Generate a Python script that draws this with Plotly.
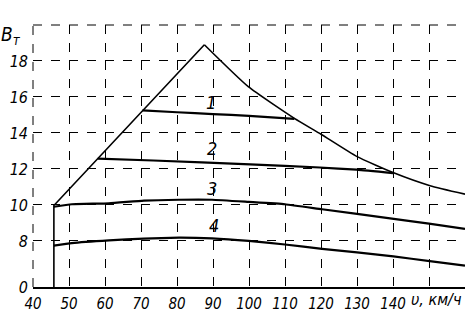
import plotly.graph_objects as go

# ---------------- data ----------------
# broken y axis: the "0" level is drawn just below the 8 level
Y_ZERO_POS = 5.44          # where the "0" label sits on the broken axis
V_MIN = 45.8               # starting speed of all curves

env_up_v = [V_MIN, V_MIN, 87.6]
env_up_b = [0, 9.97, 18.9]

env_down_v = [87.6, 99.8, 112.6, 120.0, 129.9, 140.0, 150.3, 160.0]
env_down_b = [18.9, 16.57, 14.81, 13.93, 12.7, 11.8, 11.07, 10.6]

c1_v = [70.4, 80, 90, 100, 112.6]
c1_b = [15.25, 15.15, 15.05, 14.95, 14.78]

c2_v = [58, 73.4, 100.3, 119.7, 129.9, 140]
c2_b = [12.57, 12.47, 12.26, 12.08, 11.96, 11.77]

c3_v = [V_MIN, 50.8, 61.1, 70.8, 80.6, 89.7, 99.9, 110, 120.3, 139.7, 150, 160]
c3_b = [9.9, 10.04, 10.09, 10.24, 10.29, 10.29, 10.17, 10.04, 9.76, 9.24, 8.96, 8.67]

c4_v = [V_MIN, 50.8, 61.1, 70.8, 80.6, 89.7, 99.9, 110, 120.3, 130, 140.1, 150.2, 160]
c4_b = [7.74, 7.88, 8.03, 8.13, 8.18, 8.14, 8.0, 7.8, 7.56, 7.36, 7.14, 6.88, 6.63]

curve_names = ["1", "2", "3", "4"]
label_v = [89.5, 89.8, 89.8, 90.2]
label_b = [15.68, 13.12, 10.9, 8.84]

x_tick_vals = [40, 50, 60, 70, 80, 90, 100, 110, 120, 130, 140]
x_tick_text = ["40", "50", "60", "70", "80", "90", "100", "110", "120", "130", "140"]
x_extra_grid = [150]
y_tick_vals_real = [0, 8, 10, 12, 14, 16, 18]
y_tick_text = ["0", "8", "10", "12", "14", "16", "18"]

x_title = "υ, км/ч"
y_title = "В<sub>т</sub>"


def ymap(vals):
    return [Y_ZERO_POS if b == 0 else b for b in vals]


FONT = "Liberation Sans Narrow, DejaVu Sans Condensed, Arial Narrow, DejaVu Sans, sans-serif"

fig = go.Figure()

fig.add_trace(go.Scatter(x=env_up_v, y=ymap(env_up_b), mode="lines",
                         line=dict(color="black", width=1.6), hoverinfo="skip"))
fig.add_trace(go.Scatter(x=env_down_v, y=env_down_b, mode="lines",
                         line=dict(color="black", width=1.6, shape="spline", smoothing=0.5),
                         hoverinfo="skip"))
for vv, bb in [(c1_v, c1_b), (c2_v, c2_b), (c3_v, c3_b), (c4_v, c4_b)]:
    fig.add_trace(go.Scatter(x=vv, y=bb, mode="lines",
                             line=dict(color="black", width=2.2, shape="spline", smoothing=0.4),
                             hoverinfo="skip"))

for name, lv, lb in zip(curve_names, label_v, label_b):
    fig.add_annotation(x=lv, y=lb, text=name, showarrow=False,
                       font=dict(family=FONT, size=18, color="black", style="italic"))

fig.add_annotation(xref="x", yref="paper", x=152, y=0, yanchor="top", yshift=-1,
                   text=x_title, showarrow=False,
                   font=dict(family=FONT, size=16, color="black", style="italic"))
fig.add_annotation(xref="paper", yref="y", x=-0.078, y=19.4, xanchor="left",
                   text=y_title, showarrow=False,
                   font=dict(family=FONT, size=19, color="black", style="italic"))

# dashed frame (left and top edges of the drawing area)
fig.add_shape(type="line", xref="paper", yref="paper", x0=0, x1=0, y0=0, y1=1,
              line=dict(color="black", width=1, dash="dash"))
fig.add_shape(type="line", xref="paper", yref="paper", x0=0, x1=1, y0=1, y1=1,
              line=dict(color="black", width=1, dash="dash"))

fig.update_xaxes(range=[40, 160], tickvals=x_tick_vals, ticktext=x_tick_text,
                 showgrid=True, gridcolor="black", gridwidth=1, griddash="dash",
                 minor=dict(tickvals=x_extra_grid, showgrid=True, gridcolor="black",
                            gridwidth=1, griddash="dash", ticks=""),
                 showline=True, linecolor="black", linewidth=1.5,
                 zeroline=False, ticks="", ticklabelstandoff=2,
                 tickfont=dict(family=FONT, size=15, color="black", style="italic"))
fig.update_yaxes(range=[Y_ZERO_POS, 20], tickvals=ymap(y_tick_vals_real), ticktext=y_tick_text,
                 showgrid=True, gridcolor="black", gridwidth=1, griddash="dash",
                 showline=False, zeroline=False, ticks="", ticklabelstandoff=4,
                 tickfont=dict(family=FONT, size=16, color="black", style="italic"))

fig.update_layout(width=466, height=315, showlegend=False,
                  margin=dict(l=33, r=1, t=25, b=28),
                  paper_bgcolor="white", plot_bgcolor="white")

fig.write_html("out.html")
